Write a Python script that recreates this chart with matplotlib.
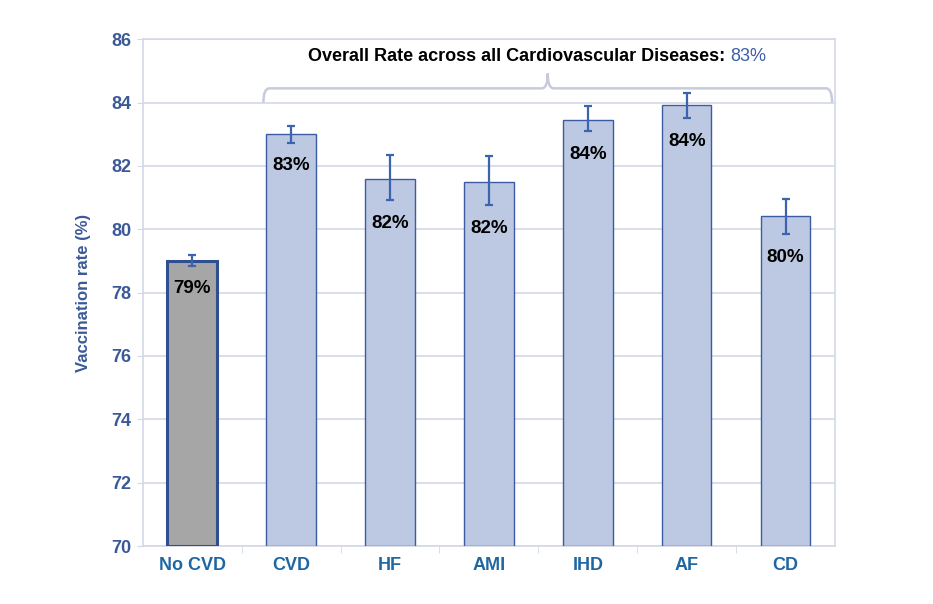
import matplotlib
matplotlib.use("Agg")
import matplotlib.pyplot as plt
from matplotlib.path import Path
from matplotlib.patches import PathPatch
import matplotlib.transforms as mtransforms

plt.rcParams['font.family'] = ['Liberation Sans', 'DejaVu Sans']

categories = ["No CVD", "CVD", "HF", "AMI", "IHD", "AF", "CD"]
rates = [79.0, 83.0, 81.6, 81.5, 83.45, 83.92, 80.42]
err_low = [78.85, 82.74, 80.91, 80.76, 83.09, 83.50, 79.84]
err_high = [79.19, 83.25, 82.33, 82.30, 83.88, 84.29, 80.95]
bar_labels = ["79%", "83%", "82%", "82%", "84%", "84%", "80%"]
overall_text = "Overall Rate across all Cardiovascular Diseases: "
overall_value = "83%"
yticks = [70, 72, 74, 76, 78, 80, 82, 84, 86]

grid_c = "#d3d8e6"
ytick_c = "#3b5998"
xtick_c = "#1f67a3"
bar_face = "#bdc9e2"
bar_edge = "#3d5ba3"
err_c = "#3c63ad"

fig = plt.figure(figsize=(9.33, 6.04), dpi=100)
ax = fig.add_axes([0.153, 0.096, 0.742, 0.839])

x = list(range(len(categories)))
faces = ["#a6a6a6"] + [bar_face] * (len(categories) - 1)
edges = ["#2f4f8f"] + [bar_edge] * (len(categories) - 1)
lws = [2.2] + [1.0] * (len(categories) - 1)
base = 70
ax.bar(x, [r - base for r in rates], bottom=base, width=0.5, color=faces,
       edgecolor=edges, linewidth=lws, zorder=3)

yerr = [[r - l for r, l in zip(rates, err_low)], [h - r for r, h in zip(rates, err_high)]]
ax.errorbar(x, rates, yerr=yerr, fmt="none", ecolor=err_c, elinewidth=1.6,
            capsize=3, capthick=1.6, zorder=4)

for xi, lo, lab in zip(x, err_low, bar_labels):
    ax.annotate(lab, (xi, lo), xytext=(0, -16.5), textcoords="offset points",
                ha="center", va="center", fontsize=13.5, fontweight="bold",
                color="black", zorder=5)

ax.set_xlim(-0.5, len(categories) - 0.5)
ax.set_ylim(70, 86)
ax.set_yticks(yticks)
ax.set_yticklabels([str(t) for t in yticks], fontsize=13, fontweight="bold", color=ytick_c)
ax.set_xticks(x)
ax.set_xticklabels(categories, fontsize=13, fontweight="bold", color=xtick_c)
ax.tick_params(axis="x", length=0, pad=8)
ax.tick_params(axis="y", length=4, color=grid_c, pad=4)
ax.set_xticks([i + 0.5 for i in x[:-1]], minor=True)
ax.tick_params(axis="x", which="minor", length=5, color=grid_c)
ax.yaxis.grid(True, color=grid_c, linewidth=1.2, zorder=0)
ax.set_axisbelow(True)
for s in ax.spines.values():
    s.set_color(grid_c)
    s.set_linewidth(1.2)

ax.set_ylabel("Vaccination rate (%)", fontsize=12, fontweight="bold", color=ytick_c, labelpad=15)

# bracket spanning CVD categories
x0, x1 = 1 - 0.28, 6 + 0.47
xm = (x0 + x1) / 2
yb, yt, ytip = 84.0, 84.45, 84.92
dx = 0.06
verts = [(x0, yb), (x0, yt), (x0 + dx, yt),
         (xm - dx, yt), (xm, yt), (xm, ytip),
         (xm, yt), (xm + dx, yt),
         (x1 - dx, yt), (x1, yt), (x1, yb)]
codes = [Path.MOVETO, Path.CURVE3, Path.CURVE3,
         Path.LINETO, Path.CURVE3, Path.CURVE3,
         Path.CURVE3, Path.CURVE3,
         Path.LINETO, Path.CURVE3, Path.CURVE3]
ax.add_patch(PathPatch(Path(verts, codes), facecolor="none", edgecolor="#c6cbdd",
                       linewidth=1.8, zorder=2, clip_on=False))

# title with two colours
fs_t = 13
t1 = ax.text(0, 0, overall_text, fontsize=fs_t, fontweight="bold", color="black")
fig.canvas.draw()
r = fig.canvas.get_renderer()
w1 = t1.get_window_extent(r).width
t1.remove()
t2 = ax.text(0, 0, overall_value, fontsize=fs_t, fontweight="normal", color="#3b5fa8")
w2 = t2.get_window_extent(r).width
t2.remove()
total = w1 + w2
xc_disp = ax.transData.transform((xm - 0.11, 85.45))
start = xc_disp[0] - total / 2
trans = mtransforms.IdentityTransform()
ax.text(start, xc_disp[1], overall_text, fontsize=fs_t, fontweight="bold",
        color="black", va="center", ha="left", transform=trans)
ax.text(start + w1, xc_disp[1], overall_value, fontsize=fs_t, fontweight="normal",
        color="#3b5fa8", va="center", ha="left", transform=trans)

fig.savefig("out.png", dpi=100)
